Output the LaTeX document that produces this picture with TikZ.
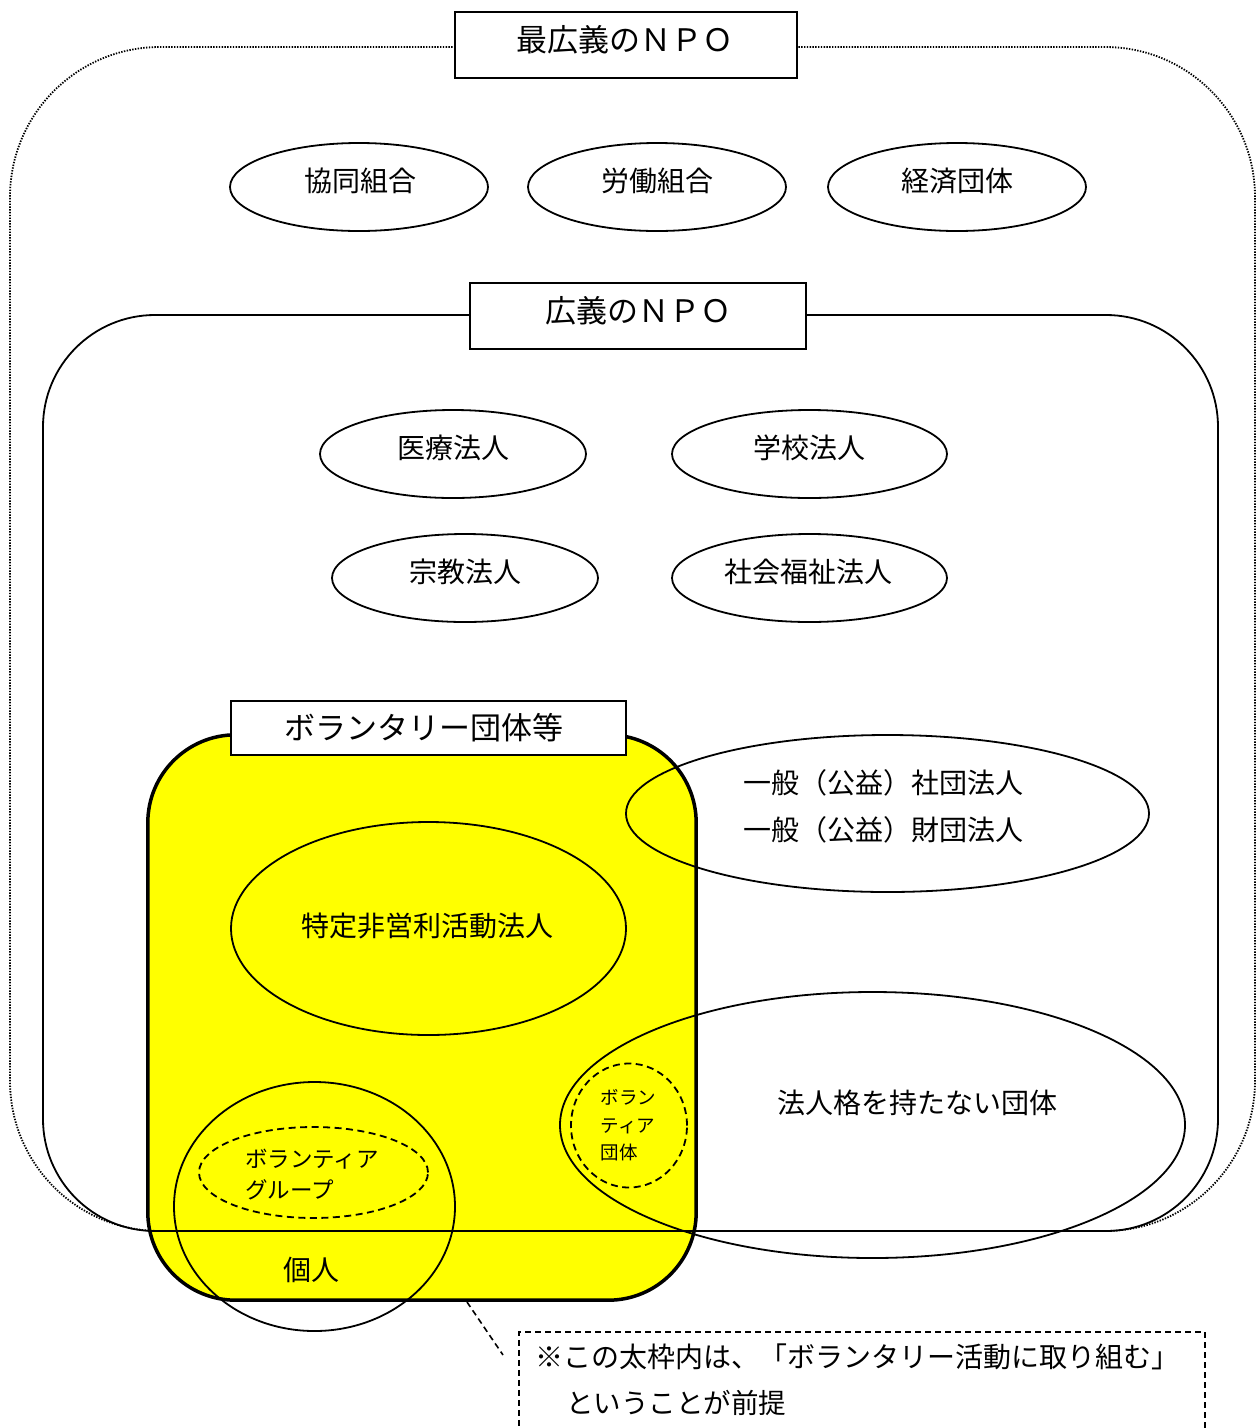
\documentclass[tikz,border=0pt]{standalone}
\usepackage{fontspec}
\newfontfamily\jp{Noto Sans CJK JP}
\usetikzlibrary{shapes.geometric}
\definecolor{volyellow}{RGB}{255,255,0}
\begin{document}
\begin{tikzpicture}[x=1pt,y=-1pt,
  ell/.style={ellipse, draw, line width=1.8pt, inner sep=0pt},
  dashell/.style={ellipse, draw, line width=1.8pt, dash pattern=on 7pt off 4.5pt, inner sep=0pt},
  titlebox/.style={rectangle, draw, line width=1.8pt, fill=white, inner sep=0pt},
  txt/.style={font=\jp\fontsize{28}{32}\selectfont, inner sep=0pt},
  ttl/.style={font=\jp\fontsize{31}{36}\selectfont, inner sep=0pt},
  dotline/.style={line width=1.8pt, dash pattern=on 1.4pt off 1.4pt},
  frame/.style={rectangle, inner sep=0pt}
]
\useasboundingbox (0,0) rectangle (1259,1428);

% yellow fill of the volunteer box
\node[frame, rounded corners=88pt, fill=volyellow, minimum width=548pt, minimum height=565pt] (vol) at (422,1017.5) {};

% outer frames
\node[frame, draw, dotline, rounded corners=150pt, minimum width=1245pt, minimum height=1184pt] (outer) at (632.5,639) {};
\node[frame, draw, line width=1.8pt, rounded corners=112pt, minimum width=1175pt, minimum height=916pt] (broad) at (630.5,773) {};

% top row ellipses
\node[ell, minimum width=258pt, minimum height=88pt] (e1) at (359,187) {};
\node[txt] (t1) at (360,181) {協同組合};
\node[ell, minimum width=258pt, minimum height=88pt] (e2) at (657,187) {};
\node[txt] (t2) at (657,181) {労働組合};
\node[ell, minimum width=258pt, minimum height=88pt] (e3) at (957,187) {};
\node[txt] (t3) at (957,181) {経済団体};

% middle ellipses
\node[ell, minimum width=266pt, minimum height=88pt] (e4) at (453,454) {};
\node[txt] (t4) at (453,448) {医療法人};
\node[ell, minimum width=275pt, minimum height=88pt] (e5) at (809.5,454) {};
\node[txt] (t5) at (809,448) {学校法人};
\node[ell, minimum width=266pt, minimum height=88pt] (e6) at (465,578) {};
\node[txt] (t6) at (465,572) {宗教法人};
\node[ell, minimum width=275pt, minimum height=88pt] (e7) at (809.5,578) {};
\node[txt] (t7) at (808,572) {社会福祉法人};

% general incorporated associations
\node[ell, minimum width=523pt, minimum height=157pt] (e8) at (887.5,813.5) {};
\node[txt, align=left, font=\jp\fontsize{28}{47}\selectfont] (t8) at (883,806) {一般（公益）社団法人\\一般（公益）財団法人};

% NPO corporation
\node[ell, minimum width=395pt, minimum height=213pt] (e9) at (428.5,928.5) {};
\node[txt] (t9) at (427,926) {特定非営利活動法人};

% unincorporated groups
\node[ell, minimum width=625pt, minimum height=266pt] (e10) at (872.5,1125) {};
\node[txt] (t10) at (917,1103) {法人格を持たない団体};

% volunteer organisation (dashed circle)
\node[dashell, minimum width=116pt, minimum height=124pt] (e11) at (629,1125.5) {};
\node[txt, align=left, font=\jp\fontsize{18.5}{27.5}\selectfont] (t11) at (628.5,1125.5) {ボラン\\ティア\\団体};

% individuals
\node[ell, minimum width=281pt, minimum height=249pt] (e12) at (314.5,1206.5) {};
\node[txt] (t12) at (311,1270) {個人};

% volunteer group (dashed ellipse)
\node[dashell, minimum width=229pt, minimum height=91pt] (e13) at (313.5,1172.5) {};
\node[txt, align=left, anchor=west, font=\jp\fontsize{22.5}{31}\selectfont] (t13) at (245,1175) {ボランティア\\グループ};

% thick border of the volunteer box
\draw[line width=3.5pt, rounded corners=88pt] (vol.north west) rectangle (vol.south east);

% title boxes
\node[titlebox, minimum width=342pt, minimum height=66pt] (b1) at (626,45) {};
\node[ttl] (tb1) at (625,40) {最広義のＮＰＯ};
\node[titlebox, minimum width=336pt, minimum height=66pt] (b2) at (638,316) {};
\node[ttl] (tb2) at (638,311) {広義のＮＰＯ};
\node[titlebox, minimum width=395pt, minimum height=54pt] (b3) at (428.5,728) {};
\node[ttl] (tb3) at (424,728) {ボランタリー団体等};

% note
\node[frame, draw, line width=1.6pt, dash pattern=on 6pt off 4pt, anchor=north west, minimum width=686pt, minimum height=130pt] (note) at (518,1331) {};
\node[txt, anchor=west, font=\jp\fontsize{28}{32}\selectfont] (n1) at (535,1357) {※この太枠内は、「ボランタリー活動に取り組む」};
\node[txt, anchor=west, font=\jp\fontsize{27.5}{32}\selectfont] (n2) at (566,1403) {ということが前提};

\coordinate (la) at (467,1302);
\coordinate (lb) at (503,1355);
\draw[line width=1.6pt, dash pattern=on 6pt off 4pt] (la) -- (lb);
\end{tikzpicture}
\end{document}
